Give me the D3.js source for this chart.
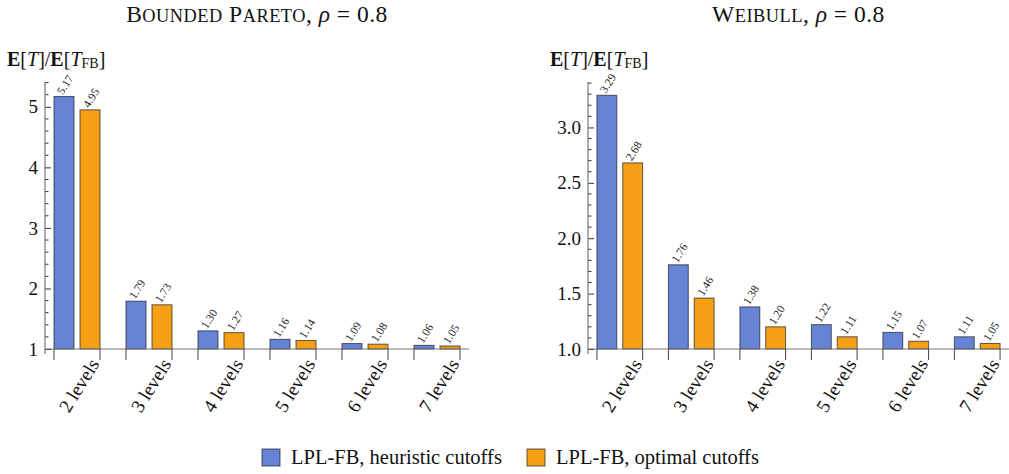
<!DOCTYPE html>
<html><head><meta charset="utf-8">
<script src="https://cdn.jsdelivr.net/npm/d3@7"></script>
<style>
body{margin:0;background:#fff;}
svg text{font-family:"Liberation Serif","Tinos","Times New Roman","DejaVu Serif",serif !important;}
</style></head><body>
<svg id="c" width="1009" height="474"></svg>
<script>
const categories = ["2 levels","3 levels","4 levels","5 levels","6 levels","7 levels"];
const seriesNames = ["LPL-FB, heuristic cutoffs","LPL-FB, optimal cutoffs"];
const paretoHeuristic = [5.17,1.79,1.30,1.16,1.09,1.06];
const paretoOptimal   = [4.95,1.73,1.27,1.14,1.08,1.05];
const weibullHeuristic = [3.29,1.76,1.38,1.22,1.15,1.11];
const weibullOptimal   = [2.68,1.46,1.20,1.11,1.07,1.05];
const paretoTicks = [1,2,3,4,5];
const weibullTicks = [1.0,1.5,2.0,2.5,3.0];
const colors = ["#6683d6","#f5a014"];

const svg = d3.select("#c");
const panels = [
  {title:["Bounded","Pareto"], x0:45, w:424, ymax:5.41, ticks:paretoTicks, fmt:d3.format("d"), minor:0.2, data:[paretoHeuristic,paretoOptimal]},
  {title:["Weibull"], x0:588, w:421, ymax:3.41, ticks:weibullTicks, fmt:d3.format(".1f"), minor:0.1, data:[weibullHeuristic,weibullOptimal]}
];
const yBase = 349, yTop = 82, ang = 58, TF = 23.5;

panels.forEach(p=>{
  const g = svg.append("g");
  const y = d3.scaleLinear().domain([1,p.ymax]).range([yBase,yTop]);
  const x = d3.scaleBand().domain(categories).range([p.x0,p.x0+p.w]).paddingInner(26/72).paddingOuter(0.125);
  const xs = d3.scaleBand().domain([0,1]).range([0,x.bandwidth()]).paddingInner(6/26);

  // title (small caps)
  const t = g.append("text").attr("x",p.x0+p.w/2).attr("y",22).attr("text-anchor","middle").attr("font-size",TF).attr("fill","#111").attr("letter-spacing",0.5);
  p.title.forEach((w,wi)=>{
    t.append("tspan").text((wi>0?" ":"")+w[0]);
    t.append("tspan").attr("font-size",TF*0.78).style("text-transform","uppercase").text(w.slice(1));
  });
  t.append("tspan").text(", ");
  t.append("tspan").attr("font-style","italic").text("ρ");
  t.append("tspan").text(" = 0.8");

  // y label
  const yl = g.append("text").attr("x",p.x0-38).attr("y",66).attr("font-size",20).attr("fill","#111");
  yl.append("tspan").attr("font-weight","bold").text("E");
  yl.append("tspan").text("[");
  yl.append("tspan").attr("font-style","italic").text("T");
  yl.append("tspan").text("]/");
  yl.append("tspan").attr("font-weight","bold").text("E");
  yl.append("tspan").text("[");
  yl.append("tspan").attr("font-style","italic").text("T");
  yl.append("tspan").attr("font-size",14).attr("dy",2).text("FB");
  yl.append("tspan").attr("dy",-2).text("]");

  // bars
  p.data.forEach((vals,si)=>{
    g.selectAll(null).data(vals).enter().append("rect")
      .attr("x",(d,i)=>x(categories[i])+xs(si))
      .attr("width",xs.bandwidth())
      .attr("y",d=>y(d))
      .attr("height",d=>yBase-y(d))
      .attr("fill",colors[si])
      .attr("stroke","rgba(30,30,40,0.7)").attr("stroke-width",1);
    g.selectAll(null).data(vals).enter().append("text")
      .attr("transform",(d,i)=>`translate(${x(categories[i])+xs(si)+xs.bandwidth()/2+1},${y(d)-12}) rotate(${-ang})`)
      .attr("text-anchor","middle").attr("dominant-baseline","central")
      .attr("font-size",11.5).attr("fill","#222")
      .text(d=>d3.format(".2f")(d));
  });

  // y axis
  const ya = d3.axisLeft(y).tickValues(p.ticks).tickFormat(p.fmt).tickSizeInner(-6).tickSizeOuter(0).tickPadding(7);
  const ag = g.append("g").attr("transform",`translate(${p.x0},0)`).call(ya);
  ag.select(".domain").remove();
  ag.selectAll(".tick line").attr("stroke","#333");
  ag.selectAll(".tick text").attr("font-size",19).attr("fill","#111");
  const minors = d3.range(1, p.ymax, p.minor).filter(v=>!p.ticks.some(t=>Math.abs(t-v)<1e-6));
  g.selectAll(null).data(minors).enter().append("line")
    .attr("x1",p.x0).attr("x2",p.x0+3.5).attr("y1",d=>y(d)).attr("y2",d=>y(d)).attr("stroke","#333");
  g.append("line").attr("x1",p.x0).attr("x2",p.x0).attr("y1",yTop).attr("y2",yBase+5).attr("stroke","#777").attr("stroke-width",1.2);

  // x axis baseline & group ticks
  g.append("line").attr("x1",p.x0).attr("x2",p.x0+p.w).attr("y1",yBase).attr("y2",yBase).attr("stroke","#777").attr("stroke-width",1.2);
  categories.forEach(c=>{
    [x(c), x(c)+x.bandwidth()].forEach(xx=>{
      g.append("line").attr("x1",xx).attr("x2",xx).attr("y1",yBase).attr("y2",yBase+11).attr("stroke","#444");
    });
    g.append("text").attr("transform",`translate(${x(c)+x.bandwidth()/2+23},${yBase+15}) rotate(${-ang})`)
      .attr("text-anchor","end").attr("font-size",19).attr("fill","#111").text(c);
  });
});

// legend
const lg = svg.append("g");
const legX = [262,527];
seriesNames.forEach((n,i)=>{
  lg.append("rect").attr("x",legX[i]).attr("y",449).attr("width",18).attr("height",17)
    .attr("fill",colors[i]).attr("stroke","rgba(30,30,40,0.7)");
  lg.append("text").attr("x",legX[i]+29).attr("y",464).attr("font-size",20.5).attr("fill","#111").text(n);
});
</script></body></html>
